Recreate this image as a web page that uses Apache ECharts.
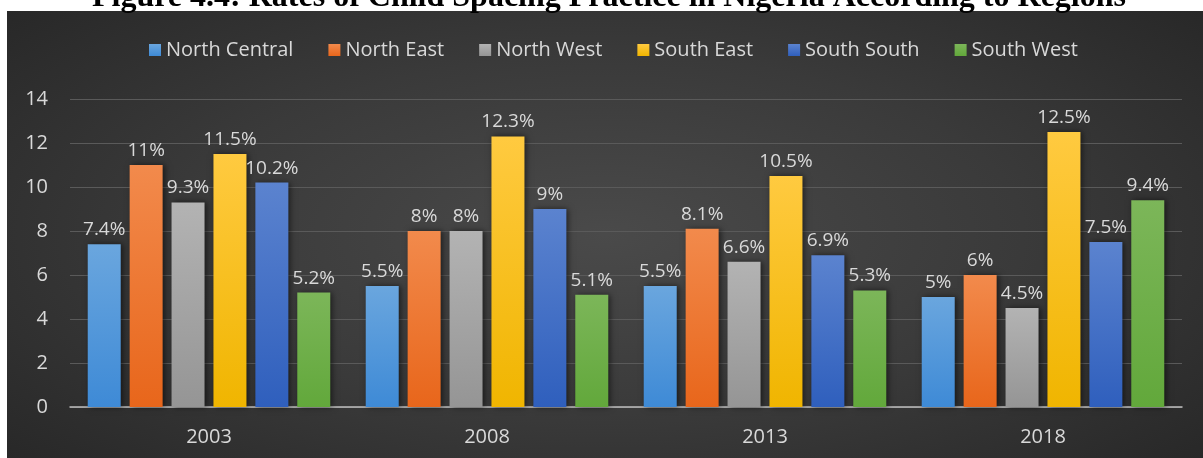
<!DOCTYPE html>
<html>
<head>
<meta charset="utf-8">
<script src="https://cdn.jsdelivr.net/npm/echarts@6/dist/echarts.min.js"></script>
<style>
  html, body { margin: 0; padding: 0; background: #fff; }
  #wrap { position: relative; width: 1203px; height: 458px; overflow: hidden; }
  #bg {
    position: absolute; left: 7px; top: 11px; width: 1196px; height: 447px;
    background: radial-gradient(ellipse 70% 80% at 50% 50%, #4a4a4a 0%, #3a3a3a 50%, #262626 100%);
  }
  #main { position: absolute; left: 0; top: 0; width: 1203px; height: 458px; }
</style>
</head>
<body>
<div id="wrap">
  <div id="bg"></div>
  <div id="main"></div>
</div>
<script>
var chart = echarts.init(document.getElementById('main'), null, { renderer: 'canvas' });

var years = ['2003', '2008', '2013', '2018']
var regions = ['North Central', 'North East', 'North West', 'South East', 'South South', 'South West']

// rates (%) per region, in year order
var northCentral = [7.4, 5.5, 5.5, 5]
var northEast = [11, 8, 8.1, 6]
var northWest = [9.3, 8, 6.6, 4.5]
var southEast = [11.5, 12.3, 10.5, 12.5]
var southSouth = [10.2, 9, 6.9, 7.5]
var southWest = [5.2, 5.1, 5.3, 9.4]

var yTicks = { min: 0, max: 14, interval: 2 }

var allData = [northCentral, northEast, northWest, southEast, southSouth, southWest]

// top / bottom colours of each bar gradient
var barColors = [
    ['#6aa6de', '#3e8ad6'],
    ['#f28a4c', '#e8661b'],
    ['#b3b3b3', '#959595'],
    ['#ffca40', '#f0b500'],
    ['#5b83cf', '#2f5fbd'],
    ['#7cb659', '#62a83b']
]

var labelColor = '#d9d9d9'
var fontFam = '"Open Sans", "Noto Sans", sans-serif'

var series = []
for (var i = 0; i < regions.length; i++) {
    series.push({
        name: regions[i],
        type: 'bar',
        data: allData[i],
        barWidth: 33,
        barGap: '27%',
        itemStyle: {
            color: new echarts.graphic.LinearGradient(0, 0, 0, 1, [
                { offset: 0, color: barColors[i][0] },
                { offset: 1, color: barColors[i][1] }
            ]),
            shadowBlur: 6,
            shadowColor: 'rgba(0,0,0,0.55)',
            shadowOffsetX: 2
        },
        label: {
            show: true,
            position: 'top',
            distance: 5,
            color: labelColor,
            fontSize: 19,
            fontFamily: fontFam,
            formatter: '{c}%'
        }
    })
}

chart.setOption({
    backgroundColor: 'transparent',
    animation: false,
    color: barColors.map(function (c) { return c[0] }),
    graphic: [
        {
            type: 'text',
            left: 92,
            top: -18,
            style: {
                text: 'Figure 4.4: Rates of Child Spacing Practice in Nigeria According to Regions',
                fill: '#000',
                font: 'bold 32px "Liberation Serif", "Times New Roman", serif'
            }
        }
    ],
    legend: {
        top: 35,
        left: 144,
        itemWidth: 12,
        itemHeight: 12,
        itemGap: 35,
        icon: 'rect',
        textStyle: {
            color: labelColor,
            fontSize: 20,
            fontFamily: fontFam
        },
        data: regions
    },
    grid: {
        left: 70,
        right: 21,
        top: 99,
        bottom: 51
    },
    xAxis: {
        type: 'category',
        data: years,
        axisLine: { lineStyle: { color: '#bfbfbf', width: 1.5 } },
        axisTick: { show: false },
        axisLabel: {
            color: labelColor,
            fontSize: 20,
            fontFamily: fontFam,
            margin: 20
        }
    },
    yAxis: {
        type: 'value',
        min: yTicks.min,
        max: yTicks.max,
        interval: yTicks.interval,
        axisLine: { show: false },
        axisTick: { show: false },
        splitLine: { lineStyle: { color: '#5a5a5a', width: 1 } },
        axisLabel: {
            color: labelColor,
            fontSize: 20,
            fontFamily: fontFam,
            margin: 22
        }
    },
    series: series
})
</script>
</body>
</html>
